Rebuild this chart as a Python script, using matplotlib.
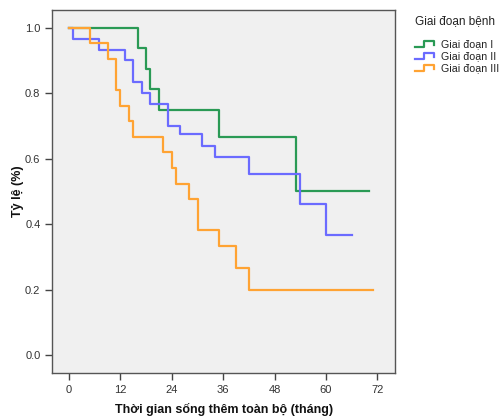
import matplotlib
matplotlib.use("Agg")
import matplotlib.pyplot as plt
from matplotlib.lines import Line2D

plt.rcParams['font.family'] = ['Liberation Sans', 'DejaVu Sans']

# Data (months, survival proportion)
t_stage1 = [0, 16, 18, 19, 21, 35, 53, 70]
s_stage1 = [1.0, 0.9375, 0.875, 0.8125, 0.75, 0.667, 0.5, 0.5]

t_stage2 = [0, 1, 7, 13, 15, 17, 19, 23, 26, 31, 34, 42, 54, 60, 66]
s_stage2 = [1.0, 0.967, 0.933, 0.9, 0.833, 0.8, 0.767, 0.7, 0.675, 0.64, 0.604, 0.553, 0.46, 0.368, 0.368]

t_stage3 = [0, 5, 9, 11, 12, 14, 15, 22, 24, 25, 28, 30, 35, 39, 42, 71]
s_stage3 = [1.0, 0.952, 0.905, 0.810, 0.762, 0.714, 0.667, 0.619, 0.571, 0.524, 0.476, 0.381, 0.333, 0.267, 0.2, 0.2]

labels = ['Giai đoạn I', 'Giai đoạn II', 'Giai đoạn III']
legend_title = 'Giai đoạn bệnh'
colors = ['#2a9a55', '#6b6bff', '#ffa333']
xticks = [0, 12, 24, 36, 48, 60, 72]
yticks = [0.0, 0.2, 0.4, 0.6, 0.8, 1.0]

W, H = 500, 419
fig = plt.figure(figsize=(W / 100, H / 100), dpi=100)
ax = fig.add_axes([0.1046, 0.1105, 0.79 - 0.1046, 0.976 - 0.1105])
ax.set_facecolor('#f0f0f0')

for t, s, c, lab in zip([t_stage1, t_stage2, t_stage3], [s_stage1, s_stage2, s_stage3], colors, labels):
    ax.step(t, s, where='post', color=c, lw=1.6, label=lab)

ax.set_xlim(-3.9, 76.1)
ax.set_ylim(-0.054, 1.054)
ax.set_xticks(xticks)
ax.set_xticklabels([str(x) for x in xticks])
ax.set_yticks(yticks)
ax.set_yticklabels([f'{y:.1f}' for y in yticks])
ax.tick_params(direction='out', length=5, width=1, colors='#444444', labelsize=8, labelcolor='#333333')
for sp in ax.spines.values():
    sp.set_color('#555555')
    sp.set_linewidth(1.0)

ax.set_xlabel('Thời gian sống thêm toàn bộ (tháng)', fontsize=9, fontweight='bold', color='#111111', labelpad=6)
ax.set_ylabel('Tỷ lệ (%)', fontsize=9, fontweight='bold', color='#111111', labelpad=1)

# Manual legend (figure pixel coordinates from top-left)
def fx(px):
    return px / W

def fy(py):
    return 1 - py / H

fig.text(fx(415), fy(21), legend_title, fontsize=8.5, color='#222222', va='center', ha='left')
entry_y = [44, 56, 68]
for yy, c, lab in zip(entry_y, colors, labels):
    xs = [415, 424, 424, 434, 434]
    ys = [yy + 3, yy + 3, yy - 3, yy - 3, yy + 1]
    fig.add_artist(Line2D([fx(v) for v in xs], [fy(v) for v in ys], color=c, lw=1.6,
                          transform=fig.transFigure))
    fig.text(fx(441), fy(yy), lab, fontsize=7.7, color='#222222', va='center', ha='left')

fig.savefig('out.png', dpi=100)
